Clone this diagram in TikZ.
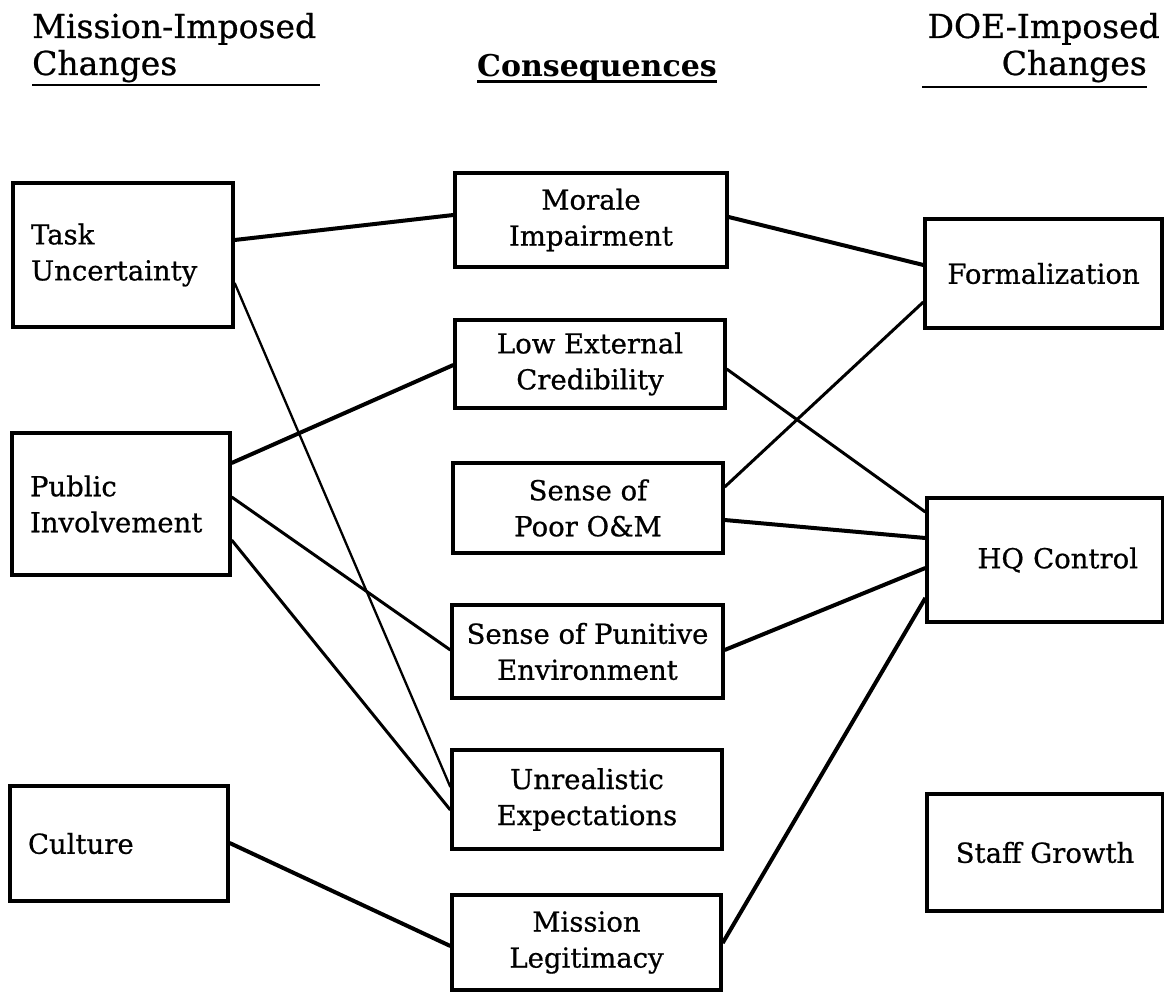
\documentclass[tikz,border=0pt]{standalone}
\usepackage{fontspec}
\setmainfont{DejaVu Serif}
\newfontfamily\scanfont{DejaVu Serif}[FakeBold=0.7]
\begin{document}
\begin{tikzpicture}[x=1pt,y=-1pt,
  boxtext/.style={font=\scanfont\fontsize{27.5}{36}\selectfont},
  box/.style={draw, line width=3.3pt, inner sep=0pt, boxtext, align=center},
  lbox/.style={box, align=left, inner xsep=18pt},
  rbox/.style={box, align=right, inner xsep=25pt},
  head/.style={font=\scanfont\fontsize{33}{37}\selectfont, inner sep=0pt},
  thick link/.style={line width=4pt},
  mid link/.style={line width=3pt},
  thin link/.style={line width=2.3pt}
]
\useasboundingbox (0,0) rectangle (1164,995);

% headings
\node[head, anchor=base west] (h1a) at (32,38) {Mission-Imposed};
\node[head, anchor=base west] (h1b) at (32,75) {Changes};
\node[head, anchor=base east] (h3a) at (1160,38) {DOE-Imposed};
\node[head, anchor=base east] (h3b) at (1147,75) {Changes};
\node[head, font=\bfseries\fontsize{30}{37}\selectfont, anchor=base] (h2) at (597,77) {Consequences};
\draw[line width=2.3pt] (32,85) -- (320,85);
\draw[line width=2.3pt] (922,87) -- (1147,87);
\draw[line width=3pt] (477,82) -- (717,82);

% left column
\node[lbox, minimum width=220pt, minimum height=144pt, text width=184pt] (task) at (123,255) {Task\\Uncertainty};
\node[lbox, minimum width=218pt, minimum height=142pt, text width=182pt] (pub) at (121,504) {Public\\Involvement};
\node[lbox, minimum width=218pt, minimum height=115pt, text width=182pt] (cult) at (119,843.5) {Culture};

% middle column
\node[box, minimum width=272pt, minimum height=94pt] (morale) at (591,220) {Morale\\Impairment};
\node[box, minimum width=270pt, minimum height=88pt] (lowext) at (590,364) {Low External\\Credibility};
\node[box, minimum width=270pt, minimum height=90pt] (poor) at (588,508) {Sense of\\Poor O\&M};
\node[box, minimum width=271pt, minimum height=93pt] (punit) at (587.5,651.5) {Sense of Punitive\\Environment};
\node[box, minimum width=270pt, minimum height=99pt] (unreal) at (587,799.5) {Unrealistic\\Expectations};
\node[box, minimum width=269pt, minimum height=95pt] (mission) at (586.5,942.5) {Mission\\Legitimacy};

% right column
\node[box, minimum width=237pt, minimum height=109pt] (formal) at (1043.5,273.5) {Formalization};
\node[rbox, minimum width=236pt, minimum height=124pt, text width=186pt] (hq) at (1045,560) {HQ Control};
\node[box, minimum width=236pt, minimum height=117pt] (staff) at (1045,852.5) {Staff Growth};

% connectors
\draw[thick link] ([yshift=15pt]task.east) -- ([yshift=5pt]morale.west);
\draw[thin link] ([yshift=-28pt]task.east) -- ([yshift=12.5pt]unreal.west);
\draw[thick link] ([yshift=41pt]pub.east) -- ([yshift=-1pt]lowext.west);
\draw[mid link] ([yshift=7pt]pub.east) -- ([yshift=1.5pt]punit.west);
\draw[mid link] ([yshift=-36pt]pub.east) -- ([yshift=-10.5pt]unreal.west);
\draw[thick link] ([yshift=0.5pt]cult.east) -- ([yshift=-3.5pt]mission.west);
\draw[thick link] ([yshift=3pt]morale.east) -- ([yshift=8.5pt]formal.west);
\draw[mid link] ([yshift=-5pt]lowext.east) -- ([yshift=48pt]hq.west);
\draw[mid link] ([yshift=21pt]poor.east) -- ([yshift=-28.5pt]formal.west);
\draw[thick link] ([yshift=-12pt]poor.east) -- ([yshift=22pt]hq.west);
\draw[thick link] ([yshift=1.5pt]punit.east) -- ([yshift=-8pt]hq.west);
\draw[thick link] ([yshift=-0.5pt]mission.east) -- ([yshift=-38pt]hq.west);
\end{tikzpicture}
\end{document}
